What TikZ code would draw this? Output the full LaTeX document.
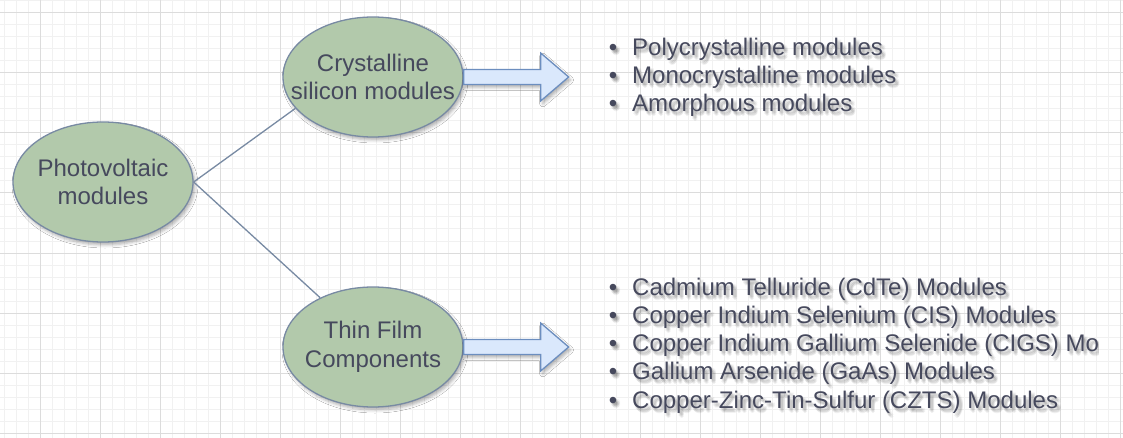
\documentclass[tikz,border=0pt]{standalone}
\usepackage{fontspec}
\setmainfont{Liberation Sans}
\usetikzlibrary{shapes.geometric,shadows.blur}
\definecolor{efill}{HTML}{B2C9AB}
\definecolor{estroke}{HTML}{788AA3}
\definecolor{tcol}{HTML}{46495D}
\definecolor{afill}{HTML}{DAE8FC}
\definecolor{astroke}{HTML}{6C8EBF}
\definecolor{gmaj}{HTML}{DCDCDC}
\definecolor{gmin}{HTML}{F1F1F1}
\newcommand\softshadow[1]{\leavevmode\rlap{\pgfsetfillopacity{0.05}\color{black}%
  \rlap{\hspace{1pt}\raisebox{-1pt}{#1}}%
  \rlap{\hspace{2pt}\raisebox{-2pt}{#1}}%
  \rlap{\hspace{3pt}\raisebox{-3pt}{#1}}%
  \rlap{\hspace{2pt}\raisebox{-4pt}{#1}}%
  \rlap{\hspace{4pt}\raisebox{-2pt}{#1}}%
  \rlap{\hspace{3pt}\raisebox{-5pt}{#1}}%
  \rlap{\hspace{1pt}\raisebox{-3pt}{#1}}%
  \rlap{\hspace{4pt}\raisebox{-4pt}{#1}}%
  \pgfsetfillopacity{1}}#1}
\begin{document}
\begin{tikzpicture}[x=1pt,y=-1pt,
  every node/.style={font=\fontsize{24}{28.8}\selectfont, text=tcol},
  bubble/.style={ellipse, draw=estroke, line width=1.3pt, fill=efill,
    minimum width=180pt, minimum height=120pt, inner sep=0pt,
    blur shadow={shadow xshift=2pt, shadow yshift=-3pt, shadow blur radius=3pt, shadow opacity=30}},
  bubbletext/.style={align=center, inner sep=0pt},
  link/.style={draw=estroke, line width=1.3pt},
  blockarrow/.style={draw=astroke, line width=1.3pt, fill=afill, line join=miter,
    blur shadow={shadow xshift=2pt, shadow yshift=-3pt, shadow blur radius=3pt, shadow opacity=30}},
  item/.style={anchor=base west, inner sep=0pt}]
\useasboundingbox (0,0) rectangle (1123,438);
\fill[white] (0,0) rectangle (1123,438);
\foreach \x in {4,16,...,1120} \draw[gmin, line width=1pt] (\x,0) -- (\x,438);
\foreach \y in {1,13,...,437} \draw[gmin, line width=1pt] (0,\y) -- (1123,\y);
\foreach \x in {40,100,...,1120} \draw[gmaj, line width=1pt] (\x,0) -- (\x,438);
\foreach \y in {13,73,...,433} \draw[gmaj, line width=1pt] (0,\y) -- (1123,\y);

\node[bubble] (pv) at (103,182) {};
\node[bubble] (cs) at (373,77) {};
\node[bubble] (tf) at (373,347) {};
\node[bubbletext] (pvt) at (pv.center) {Photovoltaic\\modules};
\node[bubbletext] (cst) at (cs.center) {Crystalline\\silicon modules};
\node[bubbletext] (tft) at (tf.center) {Thin Film\\Components};

\draw[link] (pv.east) -- (cs.202);
\draw[link] (pv.east) -- (tf.137);

\draw[blockarrow] (cs.east) ++(0,-7.5) -- ++(77,0) -- ++(0,-16.5) -- ++(28,24) -- ++(-28,24) -- ++(0,-16.5) -- ++(-77,0) -- cycle;
\draw[blockarrow] (tf.east) ++(0,-7.5) -- ++(77,0) -- ++(0,-16.5) -- ++(28,24) -- ++(-28,24) -- ++(0,-16.5) -- ++(-77,0) -- cycle;

\node[item] (c1) at (632,56) {\softshadow{\llap{\textbullet\hspace{15pt}}Polycrystalline modules}};
\node[item] (c2) at (632,84) {\softshadow{\llap{\textbullet\hspace{15pt}}Monocrystalline modules}};
\node[item] (c3) at (632,112) {\softshadow{\llap{\textbullet\hspace{15pt}}Amorphous modules}};

\node[item] (t1) at (632,295) {\softshadow{\llap{\textbullet\hspace{15pt}}Cadmium Telluride (CdTe) Modules}};
\node[item] (t2) at (632,323.3) {\softshadow{\llap{\textbullet\hspace{15pt}}Copper Indium Selenium (CIS) Modules}};
\begin{scope}
\clip (590,325) rectangle (1098,372);
\node[item] (t3) at (632,351.6) {\softshadow{\llap{\textbullet\hspace{15pt}}Copper Indium Gallium Selenide (CIGS) Modules}};
\end{scope}
\node[item] (t4) at (632,379.9) {\softshadow{\llap{\textbullet\hspace{15pt}}Gallium Arsenide (GaAs) Modules}};
\node[item] (t5) at (632,408.2) {\softshadow{\llap{\textbullet\hspace{15pt}}Copper-Zinc-Tin-Sulfur (CZTS) Modules}};
\end{tikzpicture}
\end{document}
